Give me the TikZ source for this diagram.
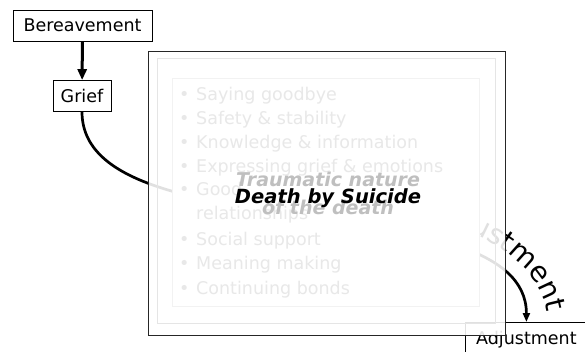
\documentclass[tikz,border=0pt]{standalone}
\usepackage{fontspec}
\setmainfont{DejaVu Sans}
\usetikzlibrary{arrows.meta,decorations.text}
\newcommand\adjfont{\fontsize{28}{28}\selectfont}

\begin{document}
\begin{tikzpicture}[x=1pt,y=-1pt,font=\fontsize{17.5}{21}\selectfont,
  box/.style={draw,line width=0.8pt,minimum height=31pt,inner sep=0pt,text depth=0pt},
  flow/.style={line width=2.7pt},
  layer/.style={minimum width=#1,inner sep=0pt},
  item/.style={anchor=base west,inner sep=0pt,text=black!9}]
  \useasboundingbox (0,0) rectangle (585,351);
  \node[box,minimum width=139pt] (bereavement) at (82.5,25.5){Bereavement};
  \node[box,minimum width=58pt] (grief) at (82,96){Grief};
  \node[box,minimum width=122pt,anchor=north west] (adjustment) at (465,322){Adjustment};
  \draw[flow,line width=3pt,-{Triangle[length=11pt,width=9pt]}] (bereavement) -- (grief);
  \draw[flow,-{Triangle[length=9pt,width=7pt]}]
    (grief.south) .. controls +(0,142) and +(0,-142) .. (adjustment.north);
  \coordinate (adjtxtA) at (436,220);
  \coordinate (adjtxtB) at (548,322);
  \path[decorate,decoration={text along path,text={|\adjfont|Adjustment},
      text align={right,right indent=10pt}}]
    (adjtxtA) .. controls +(60,17) and +(0,-48) .. (adjtxtB);
  \node[layer=357pt,minimum height=284pt,draw=black!85,line width=1pt,fill=white,fill opacity=0.88] (slide) at (326.5,193){};
  \node[layer=338pt,minimum height=265pt,draw=black!10] (slideframe) at (326,190.5){};
  \node[layer=307pt,minimum height=228pt,draw=black!5,fill=white] (panel) at (325.5,192){};
  \foreach \yy/\txt in {100/Saying goodbye,124/Safety \& stability,148/Knowledge \& information,
      172/Expressing grief \& emotions,195/Good,245/Social support,269/Meaning making,294/Continuing bonds}{
    \node[item] (dot\yy) at (179,\yy){\textbullet};
    \node[item] (item\yy) at (196,\yy){\txt};
  }
  \node[item] (item219) at (196,219){relationships};
  \node[text=black!25,align=center,font=\fontsize{19}{28}\selectfont\bfseries\itshape] (traumatic) at (328,193){Traumatic nature\\of the death};
  \node[anchor=base,font=\fontsize{19.5}{24}\selectfont\bfseries\itshape] (death) at (328,203){Death by Suicide};
\end{tikzpicture}
\end{document}
